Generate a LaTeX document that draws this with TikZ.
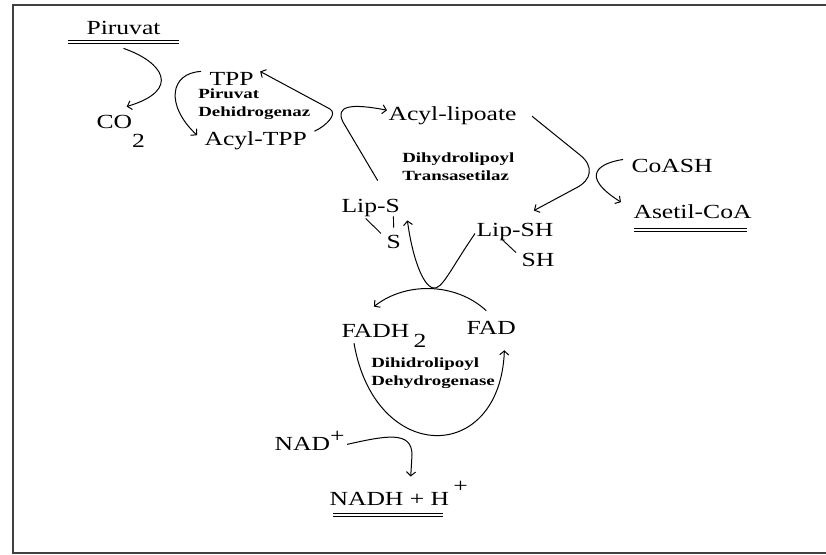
\documentclass[tikz,border=0pt]{standalone}
\usepackage{fontspec}
\setmainfont{Liberation Serif}
\usetikzlibrary{arrows.meta}

\tikzset{
  mol/.style={font=\fontsize{20}{23}\selectfont, xscale=1.28, anchor=base west, inner sep=1pt},
  enz/.style={font=\fontsize{14}{18}\selectfont\bfseries, xscale=1.35, anchor=north west, align=left, inner sep=0pt},
  rxn/.style={line width=1pt, -{Straight Barb[length=4pt,width=9pt]}},
  bond/.style={line width=0.9pt},
  dbl/.style={double, double distance=2.2pt, line width=1pt},
}

\begin{document}
\begin{tikzpicture}[x=1pt, y=-1pt]
    \useasboundingbox (0,0) rectangle (826,554);

    % Frame (right side cut off)
    \draw[line width=2pt, black!75] (826,5) -- (12.5,5) -- (12.5,552.5) -- (826,552.5);

    % Molecules
    \node[mol] (piruvat) at (85,34) {Piruvat};
    \node[mol] (tpp) at (208,85) {TPP};
    \node[mol] (co2) at (95,128) {CO\raisebox{-19pt}{2}};
    \node[mol] (acyltpp) at (203,145) {Acyl-TPP};
    \node[mol] (acyllip) at (387,120) {Acyl-lipoate};
    \node[mol] (coash) at (630,172) {CoASH};
    \node[mol] (asetil) at (632,218) {Asetil-CoA};
    \node[mol] (lips) at (340,212) {Lip-S};
    \node[mol] (sdn) at (385,248) {S};
    \node[mol] (lipsh) at (475,236) {Lip-SH};
    \node[mol] (shdn) at (520,266) {SH};
    \node[mol] (fadh) at (340,337) {FADH\,\raisebox{-10pt}{2}};
    \node[mol] (fad) at (465,334) {FAD};
    \node[mol] (nad) at (273,450) {NAD\raisebox{8pt}{+}};
    \node[mol] (nadh) at (328,505) {NADH + H\,\raisebox{13pt}{+}};

    % Enzymes
    \node[enz] (pdh) at (198,89) {Piruvat\\Dehidrogenaz};
    \node[enz] (dlt) at (402,153) {Dihydrolipoyl\\Transasetilaz};
    \node[enz] (dld) at (371,358) {Dihidrolipoyl\\Dehydrogenase};

    % Double underlines
    \draw[dbl] ([shift={(-17,6.5)}]piruvat.south west) -- ([shift={(17,6.5)}]piruvat.south east);
    \draw[dbl] ([shift={(2,10.5)}]asetil.south west) -- ([shift={(-6,10.5)}]asetil.south east);
    \draw[dbl] ([shift={(5,8.5)}]nadh.south west) -- ++(110,0);

    % Bonds
    \draw[bond] ([shift={(-8,-1)}]lips.south east) -- ([yshift=6pt]sdn.north);
    \draw[bond] ([shift={(-5,1)}]lips.south) -- ([shift={(-4,-8)}]sdn.west);
    \draw[bond] ([shift={(26,-3)}]lipsh.south west) -- ([shift={(-4,1)}]shdn.north west);

    % Reactions
    \draw[rxn] ([yshift=-13pt]piruvat.south) .. controls (163,62) and (182,90) .. ([shift={(6,-7)}]co2.north);
    \draw[rxn] ([shift={(-7,-7)}]tpp.west) .. controls (170,73) and (165,105) .. ([shift={(-6,-5)}]acyltpp.west);
    \draw[rxn] ([shift={(6,-9)}]acyltpp.east) .. controls (326,126) and (338,114) .. (330,109) -- ([shift={(5,-7)}]tpp.east);
    \draw[rxn] ([shift={(7,-17)}]lips.north) -- (343,122) .. controls (335,106) and (350,103) .. ([yshift=5pt]acyllip.west);
    \draw[rxn] ([shift={(14,1)}]acyllip.east) -- (580,155) .. controls (594,166) and (592,180) .. (576,188) -- ([shift={(19,-11)}]lipsh.north);
    \draw[rxn] ([shift={(-7,-6)}]coash.west) .. controls (600,163) and (578,175) .. ([shift={(-11,-9)}]asetil.west);
    \draw[rxn] ([yshift=-2pt]lipsh.west) .. controls (450,270) and (442,290) .. (433,288) .. controls (422,285) and (412,255) .. ([shift={(6,3)}]lips.south east);
    \draw[rxn] ([shift={(-5,-9)}]fad.north) .. controls (455,282) and (405,282) .. ([shift={(-10,-16)}]fadh.north);
    \draw[rxn] ([shift={(14,-5)}]fadh.south west) .. controls (375,465) and (500,465) .. ([shift={(-13,15)}]fad.south east);
    \draw[rxn] ([shift={(1,4)}]nad.east) .. controls (385,436) and (412,430) .. (412,455) -- ([shift={(12,-3)}]nadh.north);

\end{tikzpicture}
\end{document}
